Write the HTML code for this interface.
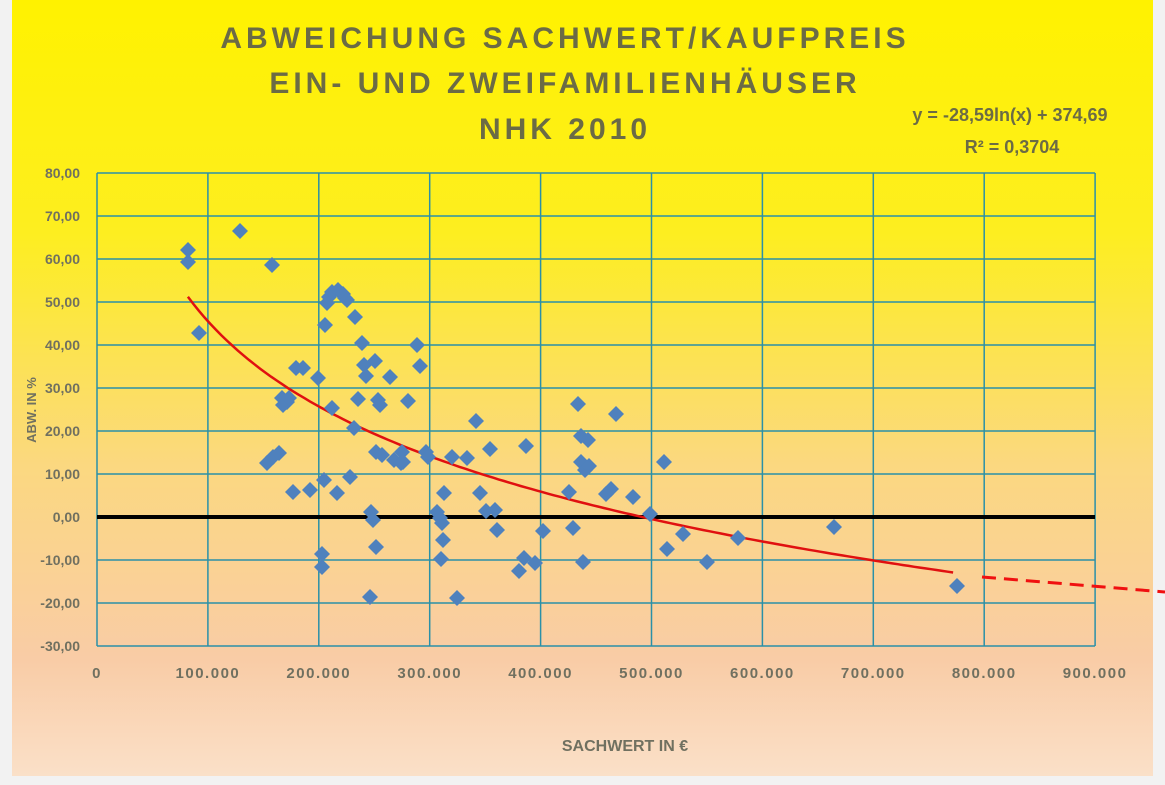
<!DOCTYPE html>
<html><head><meta charset="utf-8"><style>
body{margin:0;width:1165px;height:785px;background:#fff;overflow:hidden;font-family:"Liberation Sans",sans-serif}
svg{display:block}
</style></head><body>
<svg id="s" width="1165" height="785" xmlns="http://www.w3.org/2000/svg">
<defs><linearGradient id="g" x1="0" y1="0" x2="0" y2="1">
<stop offset="0" stop-color="#fff200"/><stop offset="0.3" stop-color="#fdee20"/><stop offset="0.6" stop-color="#fbd880"/><stop offset="0.85" stop-color="#f9cca6"/><stop offset="1" stop-color="#fae0c8"/></linearGradient></defs>
<rect x="0" y="0" width="1165" height="785" fill="#f2f2f2"/>
<rect x="12" y="0" width="1141" height="776" fill="url(#g)"/>
<g font-weight="bold" fill="#6b6b45" text-anchor="middle" font-size="30" letter-spacing="4">
<text x="565" y="48">ABWEICHUNG SACHWERT/KAUFPREIS</text>
<text x="565" y="93">EIN- UND ZWEIFAMILIENHÄUSER</text>
<text x="565" y="139">NHK 2010</text></g>
<g font-weight="bold" fill="#6b6b45" text-anchor="middle" font-size="18">
<text x="1010" y="121">y = -28,59ln(x) + 374,69</text>
<text x="1012" y="153">R² = 0,3704</text></g>
<g id="grid" stroke="#2a90a8" stroke-width="1.5"></g>
<g id="yl" font-weight="bold" fill="#707060" font-size="14" text-anchor="end"></g>
<g id="xl" font-weight="bold" fill="#707060" font-size="15" text-anchor="middle" letter-spacing="1.5"></g>
<line x1="97" y1="517" x2="1095" y2="517" stroke="#000" stroke-width="4"/>
<path id="curve" fill="none" stroke="#e01010" stroke-width="2.5"/>
<g id="pts" fill="#4f81bd"></g>
<line x1="982" y1="577" x2="1165" y2="592" stroke="#f01010" stroke-width="3" stroke-dasharray="14,8"/>
<text x="36" y="410" transform="rotate(-90 36 410)" font-weight="bold" fill="#707060" font-size="13" text-anchor="middle">ABW. IN %</text>
<text x="625" y="751" font-weight="bold" fill="#707060" font-size="16" text-anchor="middle">SACHWERT IN €</text>
</svg>
<script>
var ns="http://www.w3.org/2000/svg";
function el(t,a,p,txt){var e=document.createElementNS(ns,t);for(var k in a)e.setAttribute(k,a[k]);if(txt)e.textContent=txt;document.getElementById(p).appendChild(e);}
var X0=97,XW=110.9,Y0=517,YS=4.3;
for(var v=-30;v<=80;v+=10){var y=Y0-v*YS;el("line",{x1:X0,y1:y,x2:1095,y2:y},"grid");
el("text",{x:80,y:y+5},"yl",(v).toFixed(2).replace(".",","));}
for(var i=0;i<=9;i++){var x=X0+i*XW;el("line",{x1:x,y1:173,x2:x,y2:646},"grid");
el("text",{x:x,y:678},"xl",i==0?"0":i+"00.000");}
var d="";for(var k=82000;k<=775000;k+=5000){var yv=-28.59*Math.log(k)+374.69;d+=(d?"L":"M")+(X0+k/100000*XW).toFixed(1)+","+(Y0-yv*YS).toFixed(1);}
document.getElementById("curve").setAttribute("d",d);
var P=[[188,250],[188,262],[199,333],[240,231],[272,265],[267,463],[273,457],[279,453],[282,398],[287,402],[283,405],[289,398],[293,492],[296,368],[303,368],[310,490],[318,378],[322,554],[322,567],[324,480],[325,325],[327,303],[329,297],[332,292],[332,408],[337,493],[338,290],[343,294],[345,298],[347,300],[350,477],[354,428],[355,317],[358,399],[362,343],[364,365],[366,376],[370,597],[371,512],[373,520],[375,361],[376,547],[376,452],[378,400],[380,405],[382,455],[390,377],[394,460],[401,463],[402,452],[403,462],[408,401],[417,345],[420,366],[426,452],[428,457],[437,512],[440,518],[441,559],[442,523],[443,540],[444,493],[452,457],[457,598],[467,458],[476,421],[480,493],[486,511],[490,449],[495,510],[497,530],[519,571],[524,558],[526,446],[535,563],[543,531],[569,492],[573,528],[578,404],[581,436],[581,462],[583,562],[585,470],[588,440],[589,466],[606,494],[611,489],[616,414],[633,497],[650,514],[664,462],[667,549],[683,534],[707,562],[738,538],[834,527],[957,586]];
P.forEach(function(p){var x=p[0],y=p[1];el("path",{d:"M"+x+","+(y-8)+"L"+(x+8)+","+y+"L"+x+","+(y+8)+"L"+(x-8)+","+y+"Z"},"pts");});
</script>
</body></html>
